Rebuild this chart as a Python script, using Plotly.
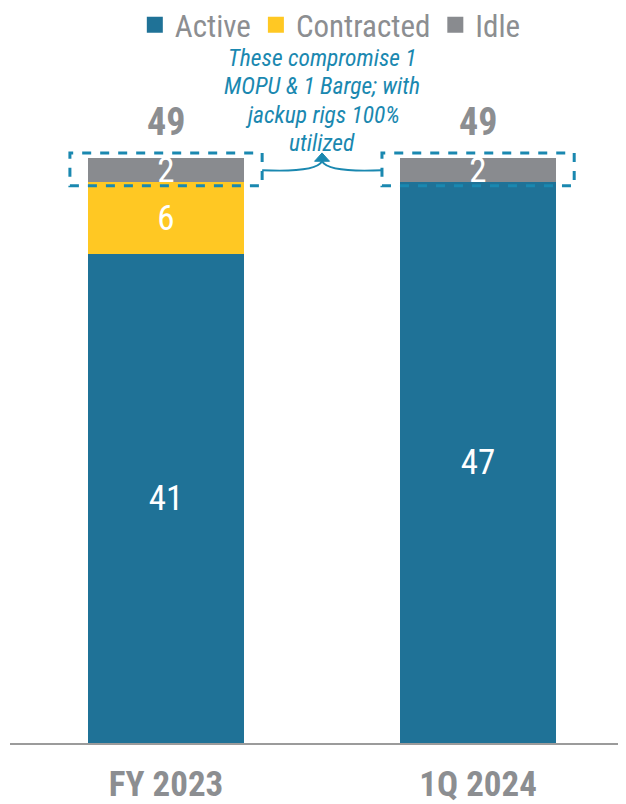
import plotly.graph_objects as go

categories = ["FY 2023", "1Q 2024"]
active = [41, 47]
contracted = [6, 0]
idle = [2, 2]
series_names = ["Active", "Contracted", "Idle"]
note_lines = ["These compromise 1", "MOPU & 1 Barge; with", "jackup rigs 100%", "utilized"]

C_ACTIVE = "#1F7297"
C_CONTR = "#FFC823"
C_IDLE = "#898B8F"
C_TEXT = "#8C8E91"
C_TEAL = "#1A88B0"
FONT = "Roboto Condensed, Roboto, sans-serif"

xpos = list(range(len(categories)))
totals = [a + c + i for a, c, i in zip(active, contracted, idle)]

fig = go.Figure()
for name, vals, col in zip(series_names, [active, contracted, idle], [C_ACTIVE, C_CONTR, C_IDLE]):
    fig.add_trace(go.Bar(
        x=xpos, y=vals, name=name, marker=dict(color=col, line=dict(width=0)),
        width=0.5, showlegend=False, legendgroup=name,
        text=[str(v) if v else "" for v in vals],
        textposition="inside", insidetextanchor="middle", constraintext="none", textangle=0,
        textfont=dict(color="white", size=35, family=FONT),
        hoverinfo="skip",
    ))
    # legend entry with a larger square swatch
    fig.add_trace(go.Scatter(
        x=[None], y=[None], mode="markers", name=name, legendgroup=name,
        marker=dict(symbol="square", size=17, color=col), hoverinfo="skip",
    ))

# totals above bars
for x, t in zip(xpos, totals):
    fig.add_annotation(x=x, y=t, text=str(t), showarrow=False, yanchor="bottom", yshift=12,
                       font=dict(size=38, color=C_TEXT, family=FONT, weight="bold"))

# dashed boxes around idle segments
padx = 0.058
for x, a, c, i in zip(xpos, active, contracted, idle):
    base = a + c
    fig.add_shape(type="rect", xref="x", yref="y",
                  x0=x - 0.25 - padx, x1=x + 0.25 + padx, y0=base - 0.3, y1=base + i + 0.45,
                  line=dict(color=C_TEAL, width=3, dash="dash"), fillcolor="rgba(0,0,0,0)")

# curved connectors to the note
mid_x = (xpos[0] + xpos[1]) / 2
ymid = active[0] + contracted[0] + idle[0] / 2
tip_top = totals[0] + 0.45
tip_base = tip_top - 0.7
lx = xpos[0] + 0.25 + padx
rx = xpos[1] - 0.25 - padx
fig.add_shape(type="path", xref="x", yref="y",
              path=f"M {lx},{ymid} Q {mid_x - 0.02},{ymid - 0.2} {mid_x},{tip_base}",
              line=dict(color=C_TEAL, width=2))
fig.add_shape(type="path", xref="x", yref="y",
              path=f"M {rx},{ymid} Q {mid_x + 0.02},{ymid - 0.2} {mid_x},{tip_base}",
              line=dict(color=C_TEAL, width=2))
fig.add_shape(type="path", xref="x", yref="y",
              path=f"M {mid_x - 0.024},{tip_base} L {mid_x + 0.024},{tip_base} L {mid_x},{tip_top} Z",
              line=dict(color=C_TEAL, width=1), fillcolor=C_TEAL)

# note text, one annotation per line for tighter line spacing
for k, line in enumerate(note_lines):
    fig.add_annotation(x=mid_x, xref="x", y=1, yref="paper", text=line, showarrow=False,
                       yanchor="middle", yshift=-(31 + 28.3 * k),
                       font=dict(size=23.5, color=C_TEAL, family=FONT, style="italic"))

fig.update_layout(
    width=618, height=796, barmode="stack",
    margin=dict(l=2, r=0, t=19, b=61, autoexpand=False),
    plot_bgcolor="white", paper_bgcolor="white",
    bargap=0,
    legend=dict(orientation="h", x=0.52, xanchor="center", y=1.0404, yanchor="top",
                font=dict(size=31, color=C_TEXT, family=FONT), traceorder="normal",
                itemclick=False, itemsizing="trace"),
    xaxis=dict(tickvals=xpos, ticktext=categories, range=[-0.5, 1.474],
               showline=True, linecolor="#9B9B9B", linewidth=2, showgrid=False, zeroline=False,
               ticks="", ticklabelstandoff=9,
               tickfont=dict(size=35, color=C_TEXT, family=FONT, weight="bold")),
    yaxis=dict(range=[0, 60], visible=False, showgrid=False, zeroline=False),
)

fig.write_html("out.html")
